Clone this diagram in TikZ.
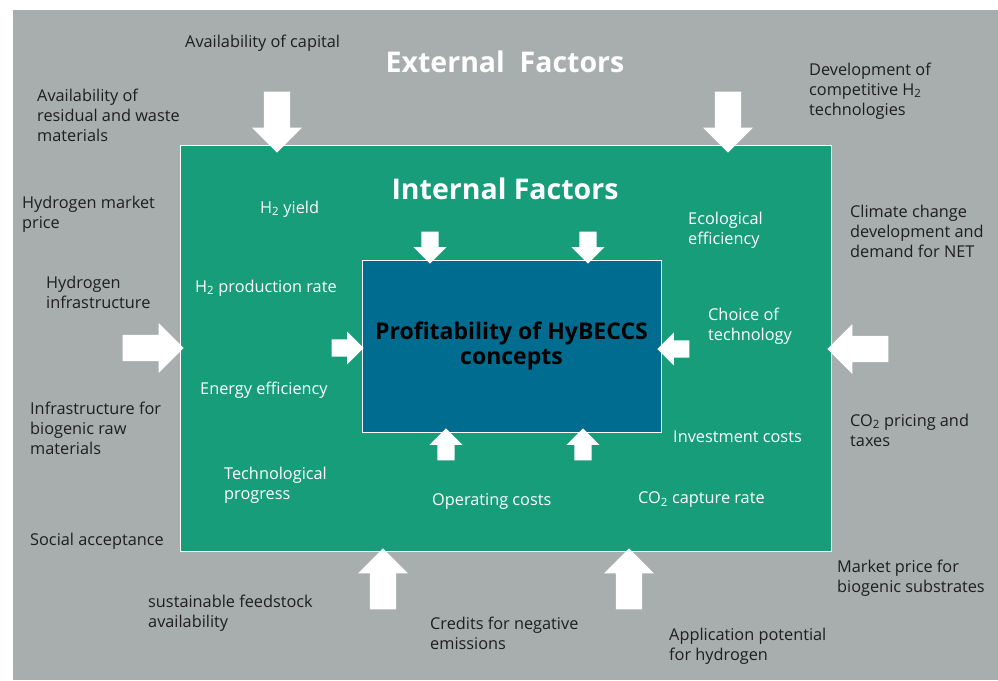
\documentclass[tikz,border=0pt]{standalone}
\usepackage{fontspec}
\setmainfont{Open Sans}
\usetikzlibrary{shapes.arrows}
\definecolor{BgGray}{HTML}{A7AEAD}
\definecolor{IntGreen}{HTML}{189D7B}
\definecolor{CoreBlue}{HTML}{006C8F}
\definecolor{TxtDark}{HTML}{1E1E1E}

\tikzset{
  extlabel/.style={text=TxtDark, font=\fontsize{16.3}{20}\selectfont, align=left, anchor=west, inner sep=0pt},
  intlabel/.style={extlabel, text=white},
  bigarrow/.style={single arrow, fill=white, inner xsep=0pt, inner ysep=13pt, anchor=tip,
    minimum height=61pt, single arrow head extend=12pt, single arrow tip angle=90},
  smallarrow/.style={bigarrow, inner ysep=8.5pt, minimum height=32pt, single arrow head extend=8pt}
}

\begin{document}
\begin{tikzpicture}[x=1pt, y=-1pt]
    \useasboundingbox (0,0) rectangle (998,680);
    % Background
    \fill[BgGray] (13,10) rectangle (998,680);
    \node[font=\fontsize{28.5}{30}\selectfont\bfseries, text=white] (exttitle) at (505,62) {External\ \ Factors};

    % Internal box and core
    \node[draw=white, fill=IntGreen, minimum width=651pt, minimum height=406pt, inner sep=0pt] (internal) at (505.5,348) {};
    \node[font=\fontsize{28.5}{30}\selectfont\bfseries, text=white] (inttitle) at (505,189) {Internal Factors};
    \node[draw=white, fill=CoreBlue, minimum width=299pt, minimum height=172pt, inner sep=0pt,
          font=\fontsize{23}{25}\selectfont\bfseries, text=black, align=center] (core) at (511.5,346)
          {Profitability of HyBECCS\\concepts};

    % External factors
    \node[extlabel] (capital) at (185,43) {Availability of capital};
    \node[extlabel] (residual) at (37,115) {Availability of\\residual and waste\\materials};
    \node[extlabel] (h2market) at (22,214) {Hydrogen market\\price};
    \node[extlabel] (h2infra) at (46,292) {Hydrogen\\infrastructure};
    \node[extlabel] (rawinfra) at (30,428) {Infrastructure for\\biogenic raw\\materials};
    \node[extlabel] (social) at (30,541) {Social acceptance};
    \node[extlabel] (feedstock) at (148,613) {sustainable feedstock\\availability};
    \node[extlabel] (credits) at (430,633) {Credits for negative\\emissions};
    \node[extlabel] (application) at (669,646) {Application potential\\for hydrogen};
    \node[extlabel] (marketbio) at (837,578) {Market price for\\biogenic substrates};
    \node[extlabel] (co2price) at (850,430) {CO\textsubscript{2} pricing and\\taxes};
    \node[extlabel] (climate) at (850,231) {Climate change\\development and\\demand for NET};
    \node[extlabel] (develop) at (809,91) {Development of\\competitive H\textsubscript{2}\\technologies};

    % Internal factors
    \node[intlabel] (h2yield) at (260,209) {H\textsubscript{2} yield};
    \node[intlabel] (h2rate) at (195,288) {H\textsubscript{2} production rate};
    \node[intlabel] (energy) at (200,390) {Energy efficiency};
    \node[intlabel] (techprog) at (224,485) {Technological\\progress};
    \node[intlabel] (opcost) at (432,501) {Operating costs};
    \node[intlabel] (capture) at (638,500) {CO\textsubscript{2} capture rate};
    \node[intlabel] (invest) at (673,437) {Investment costs};
    \node[intlabel] (choice) at (708,326) {Choice of\\technology};
    \node[intlabel] (ecol) at (688,230) {Ecological\\efficiency};

    % Block arrows onto the internal box
    \node[bigarrow, rotate=-90] (inTL) at (277,153) {};
    \node[bigarrow, rotate=-90] (inTR) at (728,153) {};
    \node[bigarrow] (inL) at (184,348) {};
    \node[bigarrow, rotate=180] (inR) at (827,349) {};
    \node[bigarrow, rotate=90] (inBL) at (383,548) {};
    \node[bigarrow, rotate=90] (inBR) at (629,548) {};

    % Block arrows onto the core
    \node[smallarrow, rotate=-90] (coreTL) at (430,264) {};
    \node[smallarrow, rotate=-90] (coreTR) at (588,264) {};
    \node[smallarrow] (coreL) at (364,348) {};
    \node[smallarrow, rotate=180] (coreR) at (657,349) {};
    \node[smallarrow, rotate=90] (coreBL) at (446,428) {};
    \node[smallarrow, rotate=90] (coreBR) at (583,428) {};
\end{tikzpicture}
\end{document}
